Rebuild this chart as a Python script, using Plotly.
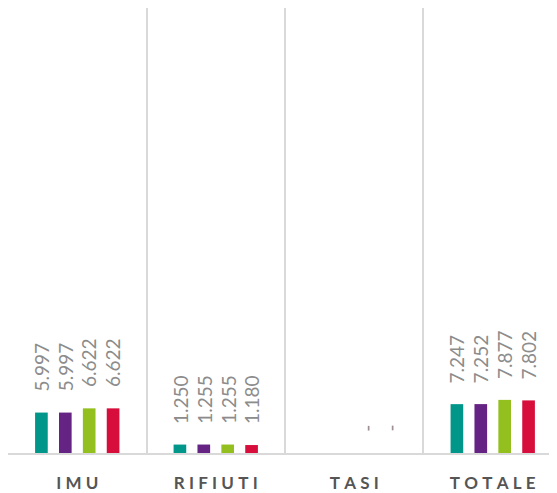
import plotly.graph_objects as go

categories = ["IMU", "RIFIUTI", "TASI", "TOTALE"]
tick_labels = ["\u2005".join(c) for c in categories]
series_names = ["Serie 1", "Serie 2", "Serie 3", "Serie 4"]
series_values = [
    [5997, 1250, None, 7247],
    [5997, 1255, None, 7252],
    [6622, 1255, 0, 7877],
    [6622, 1180, 0, 7802],
]
series_labels = [
    ["5.997", "1.250", "", "7.247"],
    ["5.997", "1.255", "", "7.252"],
    ["6.622", "1.255", "-", "7.877"],
    ["6.622", "1.180", "-", "7.802"],
]
colors = ["#00968a", "#652383", "#93c01f", "#d70e3c"]

bargap = 0.31
fig = go.Figure()
for name, vals, col in zip(series_names, series_values, colors):
    fig.add_trace(go.Bar(x=categories, y=vals, name=name, marker_color=col,
                         marker_line_width=0, showlegend=False))

slot = (1 - bargap) / len(series_names)
annotations = []
for si, (vals, labs) in enumerate(zip(series_values, series_labels)):
    off = (si - (len(series_names) - 1) / 2) * slot
    for ci, (v, t) in enumerate(zip(vals, labs)):
        if not t:
            continue
        annotations.append(dict(
            x=ci + off, y=v if v is not None else 0, xref="x", yref="y",
            text=t, showarrow=False, textangle=-90,
            yanchor="bottom", xanchor="center", yshift=19,
            font=dict(family="Lato", size=19, color="#8c8c8c", weight=400),
        ))

fig.update_layout(
    width=549, height=485,
    margin=dict(l=0, r=0, t=0, b=40),
    plot_bgcolor="white", paper_bgcolor="white",
    barmode="group", bargap=bargap, bargroupgap=0.47,
    annotations=annotations,
    xaxis=dict(
        type="category", tickson="boundaries", showgrid=True,
        gridcolor="#d9d9d9", gridwidth=2,
        range=[-0.5, 3.464],
        tickvals=categories, ticktext=tick_labels,
        ticks="", ticklabelstandoff=14,
        tickfont=dict(family="Lato", size=17, color="#555555", weight="bold"),
        showline=True, linecolor="#d9d9d9", linewidth=2,
        automargin=False,
    ),
    yaxis=dict(range=[0, 66000], showgrid=False, showticklabels=False,
               zeroline=False, showline=True, linecolor="#d9d9d9", linewidth=2),
)

fig.write_html("out.html")
